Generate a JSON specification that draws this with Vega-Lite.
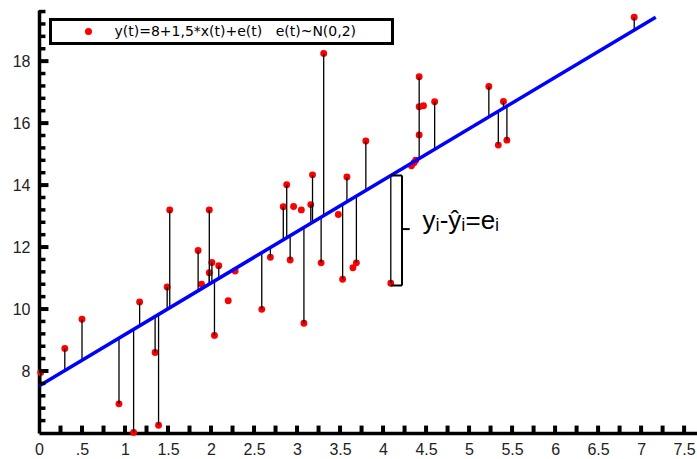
{
  "$schema": "https://vega.github.io/schema/vega-lite/v6.json",
  "width": 658,
  "height": 423,
  "autosize": {"type": "none"},
  "padding": {"left": 39, "top": 10, "right": 0, "bottom": 26},
  "background": "white",
  "config": {"view": {"stroke": null}, "font": "Liberation Sans", "legend": {"strokeWidth": 3}},
  "resolve": {"axis": {"x": "independent", "y": "independent"}},
  "datasets": {
    "points": [
      {"x":0.02,"y":7.95,"yhat":7.55},
      {"x":0.30,"y":8.73,"yhat":8.02},
      {"x":0.50,"y":9.67,"yhat":8.35},
      {"x":0.93,"y":6.94,"yhat":9.06},
      {"x":1.10,"y":6.02,"yhat":9.35},
      {"x":1.17,"y":10.23,"yhat":9.46},
      {"x":1.35,"y":8.60,"yhat":9.76},
      {"x":1.39,"y":6.25,"yhat":9.83},
      {"x":1.49,"y":10.71,"yhat":9.99},
      {"x":1.52,"y":13.20,"yhat":10.04},
      {"x":1.85,"y":11.89,"yhat":10.59},
      {"x":1.89,"y":10.80},
      {"x":1.98,"y":11.17,"yhat":10.81},
      {"x":1.98,"y":13.20,"yhat":10.81},
      {"x":2.01,"y":11.50,"yhat":10.86},
      {"x":2.04,"y":9.15,"yhat":10.91},
      {"x":2.09,"y":11.40,"yhat":10.99},
      {"x":2.20,"y":10.27},
      {"x":2.28,"y":11.23},
      {"x":2.59,"y":9.99,"yhat":11.82},
      {"x":2.69,"y":11.67,"yhat":11.99},
      {"x":2.84,"y":13.30,"yhat":12.23},
      {"x":2.88,"y":14.01,"yhat":12.30},
      {"x":2.92,"y":11.58,"yhat":12.37},
      {"x":2.96,"y":13.31},
      {"x":3.05,"y":13.20},
      {"x":3.08,"y":9.54,"yhat":12.63},
      {"x":3.16,"y":13.37,"yhat":12.77},
      {"x":3.18,"y":14.33,"yhat":12.80},
      {"x":3.28,"y":11.49,"yhat":12.96},
      {"x":3.31,"y":18.25,"yhat":13.01},
      {"x":3.48,"y":13.05},
      {"x":3.53,"y":10.96,"yhat":13.38},
      {"x":3.58,"y":14.26,"yhat":13.46},
      {"x":3.65,"y":11.33},
      {"x":3.69,"y":11.49,"yhat":13.65},
      {"x":3.80,"y":15.42,"yhat":13.83},
      {"x":4.09,"y":10.83,"yhat":14.31},
      {"x":4.33,"y":14.62},
      {"x":4.36,"y":14.72},
      {"x":4.38,"y":14.80},
      {"x":4.42,"y":17.50,"yhat":14.86},
      {"x":4.42,"y":16.53},
      {"x":4.42,"y":15.62},
      {"x":4.47,"y":16.56},
      {"x":4.60,"y":16.69,"yhat":15.16},
      {"x":5.23,"y":17.18,"yhat":16.20},
      {"x":5.34,"y":15.29,"yhat":16.38},
      {"x":5.40,"y":16.70,"yhat":16.48},
      {"x":5.44,"y":15.45,"yhat":16.55},
      {"x":6.92,"y":19.42,"yhat":19.01}
    ],
    "fit": [{"x":0,"y":7.52},{"x":7.17,"y":19.42}],
    "bracket": [
      {"x":4.09,"x2":4.22,"y":14.31,"y2":14.31},
      {"x":4.22,"x2":4.22,"y":14.31,"y2":10.76},
      {"x":4.09,"x2":4.22,"y":10.76,"y2":10.76},
      {"x":4.22,"x2":4.31,"y":12.58,"y2":12.58}
    ],
    "note": [{"x":4.46,"y":12.57,"text":"yᵢ-ŷᵢ=eᵢ"}],
    "xticks": [{"v":0.25},{"v":0.5},{"v":0.75},{"v":1},{"v":1.25},{"v":1.5},{"v":1.75},{"v":2},{"v":2.25},{"v":2.5},{"v":2.75},{"v":3},{"v":3.25},{"v":3.5},{"v":3.75},{"v":4},{"v":4.25},{"v":4.5},{"v":4.75},{"v":5},{"v":5.25},{"v":5.5},{"v":5.75},{"v":6},{"v":6.25},{"v":6.5},{"v":6.75},{"v":7},{"v":7.25},{"v":7.5}],
    "yminor": [{"v":6.4},{"v":6.8},{"v":7.2},{"v":7.6},{"v":8.4},{"v":8.8},{"v":9.2},{"v":9.6},{"v":10.4},{"v":10.8},{"v":11.2},{"v":11.6},{"v":12.4},{"v":12.8},{"v":13.2},{"v":13.6},{"v":14.4},{"v":14.8},{"v":15.2},{"v":15.6},{"v":16.4},{"v":16.8},{"v":17.2},{"v":17.6},{"v":18.4},{"v":18.8},{"v":19.2},{"v":19.6}],
    "ymajor": [{"v":8},{"v":10},{"v":12},{"v":14},{"v":16},{"v":18}]
  },
  "layer": [
    {
      "data": {"name": "points"},
      "mark": {"type": "point", "filled": true, "shape": "circle", "size": 48, "opacity": 1},
      "encoding": {
        "x": {
          "field": "x", "type": "quantitative",
          "scale": {"domain": [0, 7.65], "nice": false, "zero": false},
          "axis": {
            "orient": "bottom", "title": null, "grid": false, "ticks": false,
            "values": [0,0.5,1,1.5,2,2.5,3,3.5,4,4.5,5,5.5,6,6.5,7,7.5],
            "domainColor": "black", "domainWidth": 3.5,
            "labelExpr": "datum.value === 0.5 ? '.5' : format(datum.value, '~g')",
            "labelFontSize": 16, "labelColor": "#222", "labelPadding": 8,
            "labelOverlap": false, "labelFlush": false
          }
        },
        "y": {
          "field": "y", "type": "quantitative",
          "scale": {"domain": [6, 19.65], "nice": false, "zero": false},
          "axis": {
            "orient": "left", "title": null, "grid": false, "ticks": false,
            "values": [8,10,12,14,16,18],
            "domainColor": "black", "domainWidth": 3.5,
            "format": "d",
            "labelFontSize": 16, "labelColor": "#222", "labelPadding": 9,
            "labelOverlap": false, "labelFlush": false
          }
        },
        "color": {
          "datum": "y(t)=8+1,5*x(t)+e(t)\u00a0\u00a0\u00a0e(t)~N(0,2)\u2800\u2800\u2800",
          "type": "nominal",
          "scale": {"range": ["#ff0000"]},
          "legend": {
            "orient": "none", "legendX": 11.5, "legendY": 9.5,
            "title": null, "padding": 5,
            "strokeColor": "black", "fillColor": "white",
            "symbolOffset": 26, "labelOffset": 19,
            "labelFont": "DejaVu Sans", "labelFontSize": 14, "labelColor": "black",
            "labelLimit": 1000,
            "symbolType": "circle", "symbolSize": 50, "symbolStrokeWidth": 0,
            "encode": {"legend": {"update": {"strokeWidth": {"value": 3.5}}}}
          }
        }
      }
    },
    {
      "data": {"name": "points"},
      "transform": [{"filter": "isValid(datum.yhat)"}],
      "mark": {"type": "rule", "color": "black", "strokeWidth": 1.3},
      "encoding": {
        "x": {"field": "x", "type": "quantitative", "axis": null},
        "y": {"field": "y", "type": "quantitative", "axis": null},
        "y2": {"field": "yhat"}
      }
    },
    {
      "data": {"name": "fit"},
      "mark": {"type": "line", "color": "#0000ff", "strokeWidth": 3.5},
      "encoding": {
        "x": {"field": "x", "type": "quantitative", "axis": null},
        "y": {"field": "y", "type": "quantitative", "axis": null}
      }
    },
    {
      "data": {"name": "bracket"},
      "mark": {"type": "rule", "color": "black", "strokeWidth": 2},
      "encoding": {
        "x": {"field": "x", "type": "quantitative", "axis": null},
        "x2": {"field": "x2"},
        "y": {"field": "y", "type": "quantitative", "axis": null},
        "y2": {"field": "y2"}
      }
    },
    {
      "data": {"name": "xticks"},
      "mark": {"type": "rule", "color": "black", "strokeWidth": 4},
      "encoding": {
        "x": {"field": "v", "type": "quantitative", "axis": null},
        "y": {"datum": 6, "type": "quantitative", "axis": null},
        "y2": {"datum": 6.24}
      }
    },
    {
      "data": {"name": "yminor"},
      "mark": {"type": "rule", "color": "black", "strokeWidth": 3.5},
      "encoding": {
        "y": {"field": "v", "type": "quantitative", "axis": null},
        "x": {"datum": 0, "type": "quantitative", "axis": null},
        "x2": {"datum": 0.075}
      }
    },
    {
      "data": {"name": "ymajor"},
      "mark": {"type": "rule", "color": "black", "strokeWidth": 4},
      "encoding": {
        "y": {"field": "v", "type": "quantitative", "axis": null},
        "x": {"datum": 0, "type": "quantitative", "axis": null},
        "x2": {"datum": 0.11}
      }
    },
    {
      "data": {"name": "note"},
      "mark": {"type": "text", "align": "left", "baseline": "alphabetic", "fontSize": 26, "font": "Liberation Sans", "color": "black"},
      "encoding": {
        "x": {"field": "x", "type": "quantitative", "axis": null},
        "y": {"field": "y", "type": "quantitative", "axis": null},
        "text": {"field": "text"}
      }
    }
  ]
}
